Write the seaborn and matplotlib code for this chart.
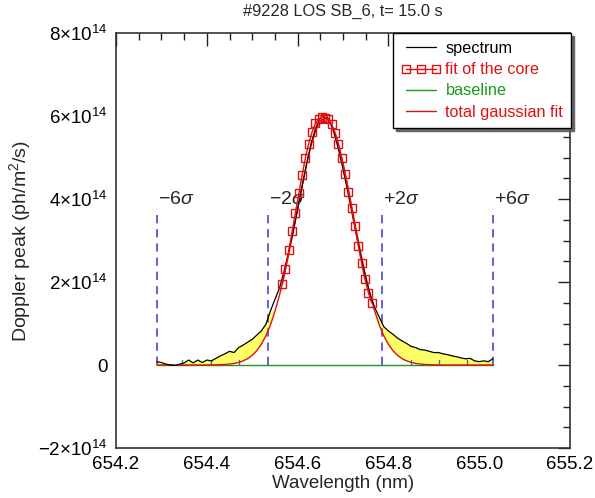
import numpy as np
import matplotlib
matplotlib.use("Agg")
import matplotlib.pyplot as plt
import seaborn as sns
from matplotlib.ticker import MultipleLocator, FuncFormatter

# ---------------- data (intensities in units of 1e14 ph/m^2/s) ----------------
wavelength = [654.29, 654.30, 654.31, 654.32, 654.33, 654.34, 654.35, 654.36, 654.37, 654.38,
              654.39, 654.40, 654.41, 654.42, 654.43, 654.44, 654.45, 654.46, 654.47, 654.48,
              654.49, 654.50, 654.51, 654.52, 654.53, 654.54, 654.55, 654.56, 654.57, 654.58,
              654.59, 654.60, 654.61, 654.62, 654.63, 654.64, 654.65, 654.66, 654.67, 654.68,
              654.69, 654.70, 654.71, 654.72, 654.73, 654.74, 654.75, 654.76, 654.77, 654.78,
              654.79, 654.80, 654.81, 654.82, 654.83, 654.84, 654.85, 654.86, 654.87, 654.88,
              654.89, 654.90, 654.91, 654.92, 654.93, 654.94, 654.95, 654.96, 654.97, 654.98,
              654.99, 655.00, 655.01, 655.02, 655.03]

spectrum = [0.08, 0.06, 0.02, 0.00, -0.01, 0.02, 0.05, 0.12, 0.05, 0.12,
            0.06, 0.12, 0.10, 0.16, 0.22, 0.27, 0.33, 0.30, 0.42, 0.48,
            0.55, 0.62, 0.72, 0.82, 0.98, 1.30, 1.58, 1.85, 2.25, 2.72,
            3.20, 3.75, 4.30, 4.85, 5.35, 5.72, 5.95, 6.05, 5.90, 5.60,
            5.20, 4.72, 4.20, 3.65, 3.10, 2.58, 2.10, 1.70, 1.38, 1.15,
            0.92, 0.82, 0.74, 0.65, 0.58, 0.52, 0.45, 0.42, 0.37, 0.36,
            0.33, 0.30, 0.30, 0.27, 0.25, 0.22, 0.20, 0.17, 0.15, 0.16,
            0.10, 0.08, 0.10, 0.08, 0.15]

gauss_fit = [0.0, 0.0, 0.0, 0.0, 0.0, 0.0, 0.0, 0.0, 0.0, 0.0,
             0.0, 0.001, 0.002, 0.004, 0.007, 0.013, 0.022, 0.038, 0.062, 0.099,
             0.153, 0.233, 0.345, 0.50, 0.70, 0.96, 1.29, 1.68, 2.13, 2.65,
             3.20, 3.77, 4.34, 4.86, 5.31, 5.66, 5.875, 5.95, 5.875, 5.66,
             5.31, 4.86, 4.34, 3.77, 3.20, 2.65, 2.13, 1.68, 1.29, 0.96,
             0.70, 0.50, 0.345, 0.233, 0.153, 0.099, 0.062, 0.038, 0.022, 0.013,
             0.007, 0.004, 0.002, 0.001, 0.0, 0.0, 0.0, 0.0, 0.0, 0.0,
             0.0, 0.0, 0.0, 0.0, 0.0]

baseline = [0.0] * len(wavelength)

core_wavelength = [654.566, 654.573, 654.581, 654.588, 654.595, 654.603, 654.610, 654.617,
                   654.624, 654.632, 654.639, 654.646, 654.654, 654.661, 654.668, 654.675,
                   654.683, 654.690, 654.697, 654.705, 654.712, 654.719, 654.726, 654.734,
                   654.741, 654.748, 654.756, 654.763]
core_fit = [1.94, 2.32, 2.78, 3.22, 3.66, 4.15, 4.58, 4.98,
            5.32, 5.62, 5.82, 5.93, 5.98, 5.96, 5.92, 5.80,
            5.58, 5.32, 5.00, 4.60, 4.18, 3.78, 3.34, 2.86,
            2.45, 2.08, 1.74, 1.50]

sigma_pos = [654.29, 654.534, 654.786, 655.03]
sigma_labels = [r'$-6\sigma$', r'$-2\sigma$', r'$+2\sigma$', r'$+6\sigma$']
minor_sigma_pos = [654.346, 654.409, 654.471, 654.849, 654.911, 654.974]

title = "#9228 LOS SB_6, t= 15.0 s"

# ---------------- style ----------------
sns.set_theme(style="white")
plt.rcParams['font.family'] = ['Liberation Sans', 'DejaVu Sans']
plt.rcParams['mathtext.fontset'] = 'custom'
plt.rcParams['mathtext.rm'] = 'Liberation Sans'
plt.rcParams['mathtext.it'] = 'Liberation Sans:italic'
plt.rcParams['mathtext.bf'] = 'Liberation Sans:bold'

fig = plt.figure(figsize=(5.95, 4.98), dpi=100)
ax = fig.add_axes([0.195, 0.1004, 0.763, 0.8333])

wl = np.array(wavelength)
sp = np.array(spectrum)
gf = np.array(gauss_fit)

# yellow excess wings
mask = (wl <= 654.54) | (wl >= 654.78)
ax.fill_between(wl, gf, sp, where=mask & (sp >= gf), interpolate=True,
                color='#ffff66', linewidth=0, zorder=1)

# sigma marker lines
for xp, lab in zip(sigma_pos, sigma_labels):
    ax.plot([xp, xp], [0, 3.75], color='#4747d6', lw=1.2, dashes=(5, 3.5), zorder=2)
    ax.text(xp + 0.002, 4.0, lab, fontsize=14, ha='left', va='center', zorder=6)
for xp in minor_sigma_pos:
    ax.plot([xp, xp], [0, 0.12], color='#5a5ad0', lw=1.0, zorder=2)

sns.lineplot(x=wavelength, y=baseline, ax=ax, color='#1a9a1a', lw=1.0,
             label='baseline', zorder=3, legend=False)
sns.lineplot(x=wavelength, y=gauss_fit, ax=ax, color='#e01010', lw=1.0,
             label='total gaussian fit', zorder=4, legend=False)
sns.lineplot(x=wavelength, y=spectrum, ax=ax, color='black', lw=0.9,
             label='spectrum', zorder=5, legend=False)
sns.lineplot(x=core_wavelength, y=core_fit, ax=ax, color='#e01010', lw=1.0,
             marker='s', markersize=5.5, markerfacecolor='none',
             markeredgecolor='#e01010', markeredgewidth=1.0,
             label='fit of the core', zorder=6, legend=False)

ax.set_xlim(654.2, 655.2)
ax.set_ylim(-2, 8)
ax.xaxis.set_major_locator(MultipleLocator(0.2))
ax.xaxis.set_minor_locator(MultipleLocator(0.05))
ax.yaxis.set_major_locator(MultipleLocator(2))
ax.yaxis.set_minor_locator(MultipleLocator(0.5))
ax.xaxis.set_major_formatter(FuncFormatter(lambda v, p: f"{v:.1f}"))

def yfmt(v, p):
    if abs(v) < 1e-9:
        return "0"
    return r"$%d{\times}10^{14}$" % int(round(v))
ax.yaxis.set_major_formatter(FuncFormatter(yfmt))

ax.tick_params(axis='both', which='both', direction='in', top=True, right=True,
               colors='#222222', labelcolor='black')
ax.tick_params(axis='both', which='major', length=9, width=1.0, labelsize=13.5, pad=6)
ax.tick_params(axis='both', which='minor', length=5, width=1.0)
for s in ax.spines.values():
    s.set_color('#333333')
    s.set_linewidth(1.2)

ax.set_xlabel("Wavelength (nm)", fontsize=13.5, labelpad=1)
ax.set_ylabel(r"Doppler peak (ph/m$^2$/s)", fontsize=14, labelpad=4)
ax.set_title(title, fontsize=11.8, pad=12)

handles, labels = ax.get_legend_handles_labels()
order = ['spectrum', 'fit of the core', 'baseline', 'total gaussian fit']
hmap = dict(zip(labels, handles))
leg = ax.legend([hmap[k] for k in order], order, loc='upper right',
                bbox_to_anchor=(1.003, 1.0), borderaxespad=0, fontsize=11.7,
                frameon=True, fancybox=False,
                shadow={'color': '0.35', 'alpha': 0.9}, numpoints=3,
                handlelength=2.4, handletextpad=0.3, labelspacing=0.38,
                borderpad=0.5)
leg.get_frame().set_edgecolor('black')
leg.get_frame().set_linewidth(1.0)
text_colors = ['black', '#e01010', '#1a9a1a', '#e01010']
for t, c in zip(leg.get_texts(), text_colors):
    t.set_color(c)
for h in leg.legend_handles:
    try:
        h.set_markersize(6)
    except Exception:
        pass

fig.savefig("out.png", dpi=100)
